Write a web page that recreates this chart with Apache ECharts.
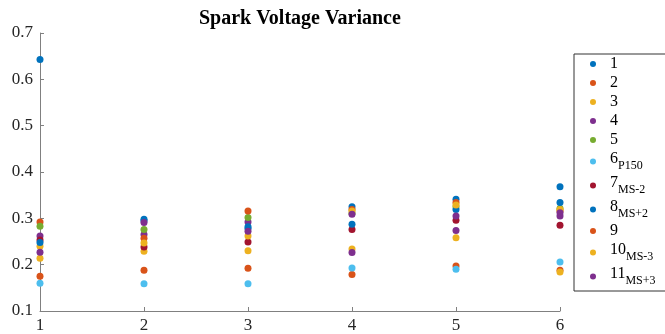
<!DOCTYPE html>
<html>
<head>
<meta charset="utf-8">
<script src="https://cdn.jsdelivr.net/npm/echarts@6/dist/echarts.min.js"></script>
<style>
  html, body { margin: 0; padding: 0; background: #fff; }
  #chart { width: 665px; height: 334px; }
</style>
</head>
<body>
<div id="chart"></div>
<script>
// x positions (measurement index)
const xValues = [1, 2, 3, 4, 5, 6];

// legend labels: main number + subscript
const seriesNames = ['1', '2', '3', '4', '5', '6', '7', '8', '9', '10', '11'];
const seriesSubs = ['', '', '', '', '', 'P150', 'MS-2', 'MS+2', '', 'MS-3', 'MS+3'];

// spark voltage variance per series, read at x = 1..6
const s1 = [0.643, 0.295, 0.278, 0.325, 0.341, 0.368];
const s2 = [0.292, 0.188, 0.192, 0.179, 0.197, 0.188];
const s3 = [0.240, 0.229, 0.230, 0.234, 0.258, 0.184];
const s4 = [0.262, 0.265, 0.292, 0.226, 0.274, 0.305];
const s5 = [0.283, 0.276, 0.302, 0.311, 0.325, 0.321];
const s6 = [0.160, 0.159, 0.159, 0.193, 0.190, 0.206];
const s7 = [0.253, 0.238, 0.249, 0.276, 0.296, 0.285];
const s8 = [0.248, 0.298, 0.282, 0.287, 0.319, 0.334];
const s9 = [0.175, 0.257, 0.316, 0.319, 0.334, 0.316];
const s10 = [0.214, 0.247, 0.262, 0.316, 0.329, 0.319];
const s11 = [0.227, 0.291, 0.272, 0.309, 0.305, 0.312];
const seriesValues = [s1, s2, s3, s4, s5, s6, s7, s8, s9, s10, s11];

const yTicks = ['0.1', '0.2', '0.3', '0.4', '0.5', '0.6', '0.7'];

const colors = ['#0072BD', '#D95319', '#EDB120', '#7E2F8E', '#77AC30', '#4DBEEE',
  '#A2142F', '#0072BD', '#D95319', '#EDB120', '#7E2F8E'];

const serif = '"Liberation Serif", "Times New Roman", serif';
const chart = echarts.init(document.getElementById('chart'));

chart.setOption({
  backgroundColor: '#fff',
  animation: false,
  title: {
    text: 'Spark Voltage Variance',
    left: 199,
    top: 9,
    padding: 0,
    textStyle: { fontFamily: serif, fontSize: 20, fontWeight: 'bold', color: '#000' },
  },
  grid: { left: 40, right: 105, top: 33, bottom: 23, containLabel: false },
  xAxis: {
    type: 'value',
    min: 1,
    max: 6,
    interval: 1,
    axisLine: { show: true, lineStyle: { color: '#808080', width: 1 } },
    axisTick: { show: true, inside: true, length: 4, lineStyle: { color: '#808080' } },
    axisLabel: { margin: 6, fontFamily: serif, fontSize: 17, color: '#262626' },
    splitLine: { show: false },
  },
  yAxis: {
    type: 'value',
    min: 0.1,
    max: 0.7,
    interval: 0.1,
    axisLine: { show: true, lineStyle: { color: '#808080', width: 1 } },
    axisTick: { show: true, inside: true, length: 4, lineStyle: { color: '#808080' } },
    axisLabel: {
      margin: 7,
      fontFamily: serif,
      fontSize: 17,
      color: '#262626',
      formatter: (v) => yTicks.find((t) => Math.abs(Number(t) - v) < 1e-6) || '',
    },
    splitLine: { show: false },
  },
  legend: {
    orient: 'vertical',
    left: 574,
    top: 54,
    icon: 'circle',
    itemWidth: 24,
    itemHeight: 6,
    itemGap: 3,
    padding: [2, 40, 4, 16],
    borderColor: '#333',
    borderWidth: 1,
    data: seriesNames,
    formatter: (name) => {
      const sub = seriesSubs[seriesNames.indexOf(name)];
      return sub ? `{b|${name}}{s|${sub}}` : `{a|${name}}`;
    },
    textStyle: {
      fontFamily: serif,
      fontSize: 16,
      color: '#000',
      rich: {
        a: { fontFamily: serif, fontSize: 16, color: '#000' },
        b: { fontFamily: serif, fontSize: 16, color: '#000', verticalAlign: 'bottom', padding: [0, 0, 5, 0] },
        s: { fontFamily: serif, fontSize: 12, color: '#000', verticalAlign: 'bottom' },
      },
    },
  },
  series: seriesNames.map((name, i) => ({
    name,
    type: 'scatter',
    symbol: 'circle',
    symbolSize: 7,
    itemStyle: { color: colors[i], opacity: 1 },
    data: xValues.map((x, j) => [x, seriesValues[i][j]]),
  })),
});
</script>
</body>
</html>
